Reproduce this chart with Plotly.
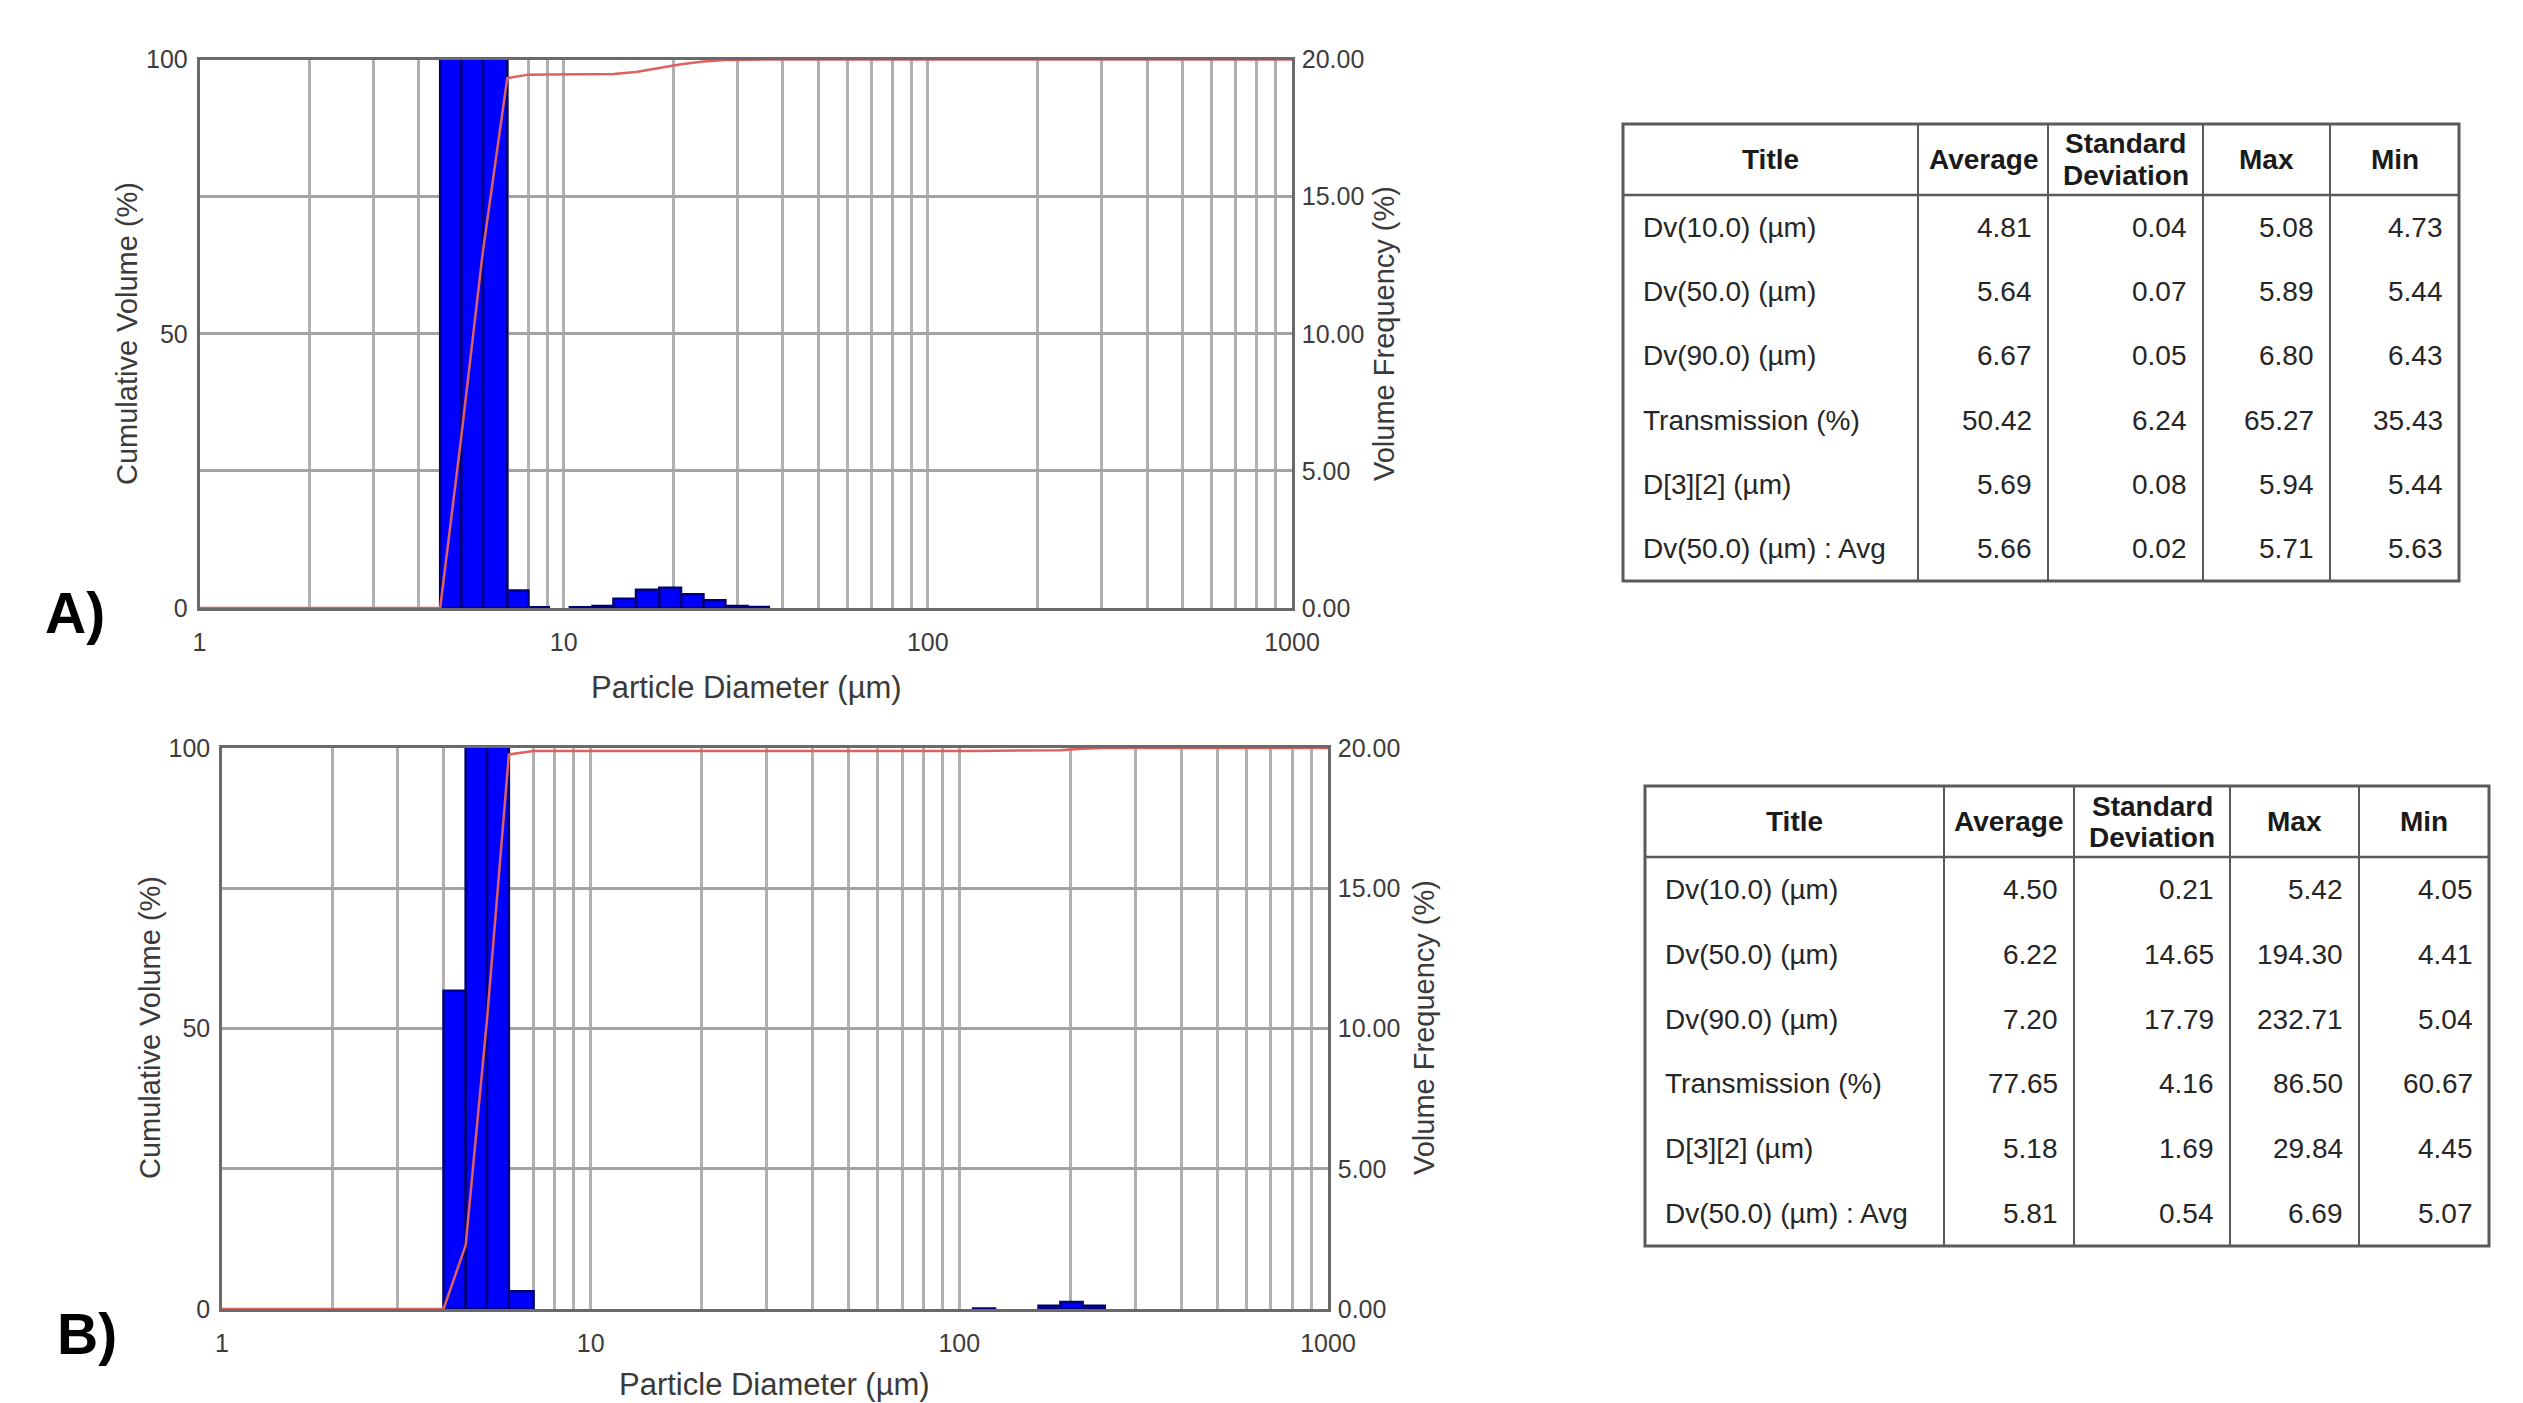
import plotly.graph_objects as go

# ---------------- data ----------------
# Panel A : volume frequency histogram (bins in µm) and cumulative curve
a_bin_lo = [4.58, 5.23, 6.0, 7.0, 8.0, 10.4, 12.0, 13.7, 15.8, 18.3, 21.0, 24.2, 27.8, 32.0]
a_bin_hi = [5.23, 6.0, 7.0, 8.0, 9.1, 12.0, 13.7, 15.8, 18.3, 21.0, 24.2, 27.8, 32.0, 36.6]
a_freq = [31.0, 34.0, 31.6, 0.64, 0.03, 0.03, 0.07, 0.34, 0.67, 0.74, 0.50, 0.28, 0.07, 0.04]
a_cum_x = [1, 4.58, 5.23, 6.0, 7.0, 8.0, 9.1, 10.4, 12.0, 13.7, 15.8, 18.3, 21.0, 24.2, 27.8, 32.0, 36.6, 1000]
a_cum_y = [0, 0, 31.0, 65.0, 96.6, 97.24, 97.27, 97.27, 97.3, 97.37, 97.71, 98.38, 99.12, 99.62, 99.9, 99.97, 100, 100]

# Panel B
b_bin_lo = [3.99, 4.58, 5.23, 6.0, 109, 164, 188, 216]
b_bin_hi = [4.58, 5.23, 6.0, 7.0, 125, 188, 216, 248]
b_freq = [11.35, 40.0, 47.5, 0.63, 0.02, 0.12, 0.25, 0.12]
b_cum_x = [1, 3.99, 4.58, 5.23, 6.0, 7.0, 109, 125, 164, 188, 216, 248, 1000]
b_cum_y = [0, 0, 11.35, 51.35, 98.85, 99.48, 99.48, 99.5, 99.5, 99.62, 99.87, 100, 100]

x_tick_vals = [1, 2, 3, 4, 5, 6, 7, 8, 9, 10, 20, 30, 40, 50, 60, 70, 80, 90,
               100, 200, 300, 400, 500, 600, 700, 800, 900, 1000]
x_tick_text = ["1", "", "", "", "", "", "", "", "", "10", "", "", "", "", "", "", "", "",
               "100", "", "", "", "", "", "", "", "", "1000"]
cum_tick_vals = [0, 25, 50, 75, 100]
cum_tick_text = ["0", "", "50", "", "100"]
freq_tick_vals = [0, 5, 10, 15, 20]
freq_tick_text = ["0.00", "5.00", "10.00", "15.00", "20.00"]

table_header = ["Title", "Average", "Standard<br>Deviation", "Max", "Min"]
table_titles = ["Dv(10.0) (µm)", "Dv(50.0) (µm)", "Dv(90.0) (µm)",
                "Transmission (%)", "D[3][2] (µm)", "Dv(50.0) (µm) : Avg"]
a_avg = ["4.81", "5.64", "6.67", "50.42", "5.69", "5.66"]
a_std = ["0.04", "0.07", "0.05", "6.24", "0.08", "0.02"]
a_max = ["5.08", "5.89", "6.80", "65.27", "5.94", "5.71"]
a_min = ["4.73", "5.44", "6.43", "35.43", "5.44", "5.63"]
b_avg = ["4.50", "6.22", "7.20", "77.65", "5.18", "5.81"]
b_std = ["0.21", "14.65", "17.79", "4.16", "1.69", "0.54"]
b_max = ["5.42", "194.30", "232.71", "86.50", "29.84", "6.69"]
b_min = ["4.05", "4.41", "5.04", "60.67", "4.45", "5.07"]

# ---------------- layout helpers ----------------
W, H = 2523, 1403


def xp(px):
    return px / W


def yp(py):
    return 1 - py / H


FONT = "Liberation Sans, Arial, sans-serif"
TICKC = "#3c3c3c"
BAR_FILL = "#0000ff"
BAR_LINE = "#00007a"
RED = "rgb(224,96,96)"
GRID = "#b0b0b0"
AXL = "#6a6a6a"

fig = go.Figure()


def bar_polys(lo, hi, f):
    xs, ys = [], []
    for a, b, v in zip(lo, hi, f):
        xs += [a, a, b, b, a, None]
        ys += [0, v, v, 0, 0, None]
    return xs, ys


panels = [
    dict(lo=a_bin_lo, hi=a_bin_hi, f=a_freq, cx=a_cum_x, cy=a_cum_y,
         box=(199.5, 1292, 59.5, 608), xa="x", yf="y", yc="y2"),
    dict(lo=b_bin_lo, hi=b_bin_hi, f=b_freq, cx=b_cum_x, cy=b_cum_y,
         box=(222, 1328, 748, 1309), xa="x2", yf="y3", yc="y4"),
]

for p in panels:
    bx, by = bar_polys(p["lo"], p["hi"], p["f"])
    fig.add_trace(go.Scatter(x=bx, y=by, mode="lines", fill="toself",
                             fillcolor=BAR_FILL, line=dict(color=BAR_LINE, width=2.5),
                             xaxis=p["xa"], yaxis=p["yf"], showlegend=False,
                             hoverinfo="skip"))
    fig.add_trace(go.Scatter(x=p["cx"], y=p["cy"], mode="lines",
                             line=dict(color=RED, width=2.5),
                             xaxis=p["xa"], yaxis=p["yc"], showlegend=False))

tickfont = dict(family=FONT, size=25, color=TICKC)


def xaxis_cfg(box, anchor):
    l, r, t, b = box
    return dict(type="log", range=[0, 3], domain=[xp(l), xp(r)], anchor=anchor,
                tickmode="array", tickvals=x_tick_vals, ticktext=x_tick_text,
                showgrid=True, gridcolor=GRID, gridwidth=2.5,
                showline=True, mirror=True, linecolor=AXL, linewidth=2.5,
                ticks="", tickfont=tickfont, ticklabelstandoff=10, zeroline=False,
                automargin=False)


def freq_cfg(box, anchor):
    l, r, t, b = box
    return dict(domain=[yp(b), yp(t)], anchor=anchor, side="right", range=[0, 20],
                tickmode="array", tickvals=freq_tick_vals, ticktext=freq_tick_text,
                showgrid=True, gridcolor="#a4a4a4", gridwidth=3, zeroline=False,
                showline=True, linecolor=AXL, linewidth=2.5, ticks="",
                tickfont=tickfont, ticklabelstandoff=2, automargin=False)


def cum_cfg(box, anchor, over):
    return dict(overlaying=over, anchor=anchor, side="left", range=[0, 100],
                tickmode="array", tickvals=cum_tick_vals, ticktext=cum_tick_text,
                showgrid=False, zeroline=False, showline=True, linecolor=AXL,
                linewidth=2.5, ticks="", tickfont=tickfont, ticklabelstandoff=4,
                automargin=False)


boxA, boxB = panels[0]["box"], panels[1]["box"]
fig.update_layout(
    xaxis=xaxis_cfg(boxA, "y"),
    yaxis=freq_cfg(boxA, "x"),
    yaxis2=cum_cfg(boxA, "x", "y"),
    xaxis2=xaxis_cfg(boxB, "y3"),
    yaxis3=freq_cfg(boxB, "x2"),
    yaxis4=cum_cfg(boxB, "x2", "y3"),
)

annotations = []
shapes = []


def text(x, y, s, size, color="#333333", xanchor="center", angle=0, bold=False):
    annotations.append(dict(x=xp(x), y=yp(y), xref="paper", yref="paper",
                            text=("<b>%s</b>" % s) if bold else s, showarrow=False,
                            xanchor=xanchor, yanchor="middle", textangle=angle,
                            font=dict(family=FONT, size=size, color=color)))


AXT = "#3a3a3a"
# panel A axis titles
text(746, 687, "Particle Diameter (µm)", 31, AXT)
text(127, 334, "Cumulative Volume (%)", 29, AXT, angle=-90)
text(1384, 334, "Volume Frequency (%)", 29, AXT, angle=-90)
# panel B axis titles
text(775, 1384, "Particle Diameter (µm)", 31, AXT)
text(150, 1028, "Cumulative Volume (%)", 29, AXT, angle=-90)
text(1424, 1028, "Volume Frequency (%)", 29, AXT, angle=-90)
# panel letters
text(75, 613, "A)", 57, "#000000", bold=True)
text(87, 1334, "B)", 57, "#000000", bold=True)


def draw_table(cols, top, hdr_bottom, bottom, avg, std, mx, mn):
    n = len(table_titles)
    rh = (bottom - hdr_bottom) / n
    lc = "#5a5a5a"
    shapes.append(dict(type="rect", xref="paper", yref="paper",
                       x0=xp(cols[0]), x1=xp(cols[-1]), y0=yp(bottom), y1=yp(top),
                       line=dict(color=lc, width=3)))
    shapes.append(dict(type="line", xref="paper", yref="paper",
                       x0=xp(cols[0]), x1=xp(cols[-1]), y0=yp(hdr_bottom), y1=yp(hdr_bottom),
                       line=dict(color=lc, width=2.5)))
    for c in cols[1:-1]:
        shapes.append(dict(type="line", xref="paper", yref="paper",
                           x0=xp(c), x1=xp(c), y0=yp(bottom), y1=yp(top),
                           line=dict(color=lc, width=2)))
    hy = (top + hdr_bottom) / 2
    for i, h in enumerate(table_header):
        lines = h.split("<br>")
        step = 31
        y0 = hy - step * (len(lines) - 1) / 2
        for k, ln in enumerate(lines):
            text((cols[i] + cols[i + 1]) / 2, y0 + k * step, ln, 28, "#1a1a1a", bold=True)
    for r in range(n):
        y = hdr_bottom + rh * (r + 0.5)
        text(cols[0] + 18, y, table_titles[r], 28, "#262626", xanchor="left")
        for j, arr in enumerate([avg, std, mx, mn]):
            text(cols[j + 2] - 14, y, arr[r], 28, "#262626", xanchor="right")


draw_table([1623, 1918, 2048, 2203, 2330, 2459], 124, 195, 581, a_avg, a_std, a_max, a_min)
draw_table([1645, 1944, 2074, 2230, 2359, 2489], 786, 857, 1246, b_avg, b_std, b_max, b_min)

fig.update_layout(width=W, height=H,
                  margin=dict(l=0, r=0, t=0, b=0, pad=0, autoexpand=False),
                  paper_bgcolor="white", plot_bgcolor="white",
                  annotations=annotations, shapes=shapes, showlegend=False,
                  font=dict(family=FONT))

fig.write_html(
    "out.html",
    config={"displayModeBar": False},
    post_script="document.body.style.margin='0';document.body.style.padding='0';"
                "document.documentElement.style.overflow='hidden';"
                "document.body.style.overflow='hidden';",
)
